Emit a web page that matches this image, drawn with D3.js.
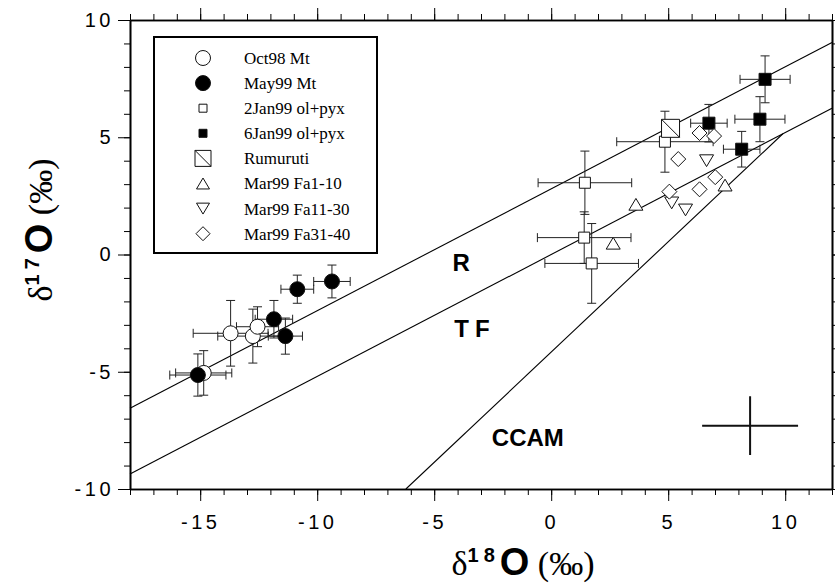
<!DOCTYPE html>
<html>
<head>
<meta charset="utf-8">
<script src="https://cdn.jsdelivr.net/npm/d3@7"></script>
<style>
  body { margin: 0; background: #fff; }
</style>
</head>
<body>
<div id="graph"></div>
<script>
"use strict";

// [d18O, d17O, err18, err17]
var oct98Mt = [[-13.7, -3.36, 1.6, 1.4], [-12.75, -3.48, 1.5, 1.15], [-12.55, -3.08, 0.9, 0.85], [-14.85, -5.05, 1.2, 0.95]];
var may99Mt = [[-15.1, -5.14, 1.2, 0.9], [-10.85, -1.48, 0.7, 0.6], [-9.37, -1.15, 0.78, 0.7], [-11.85, -2.76, 0.8, 0.8], [-11.36, -3.48, 0.73, 0.77]];
var jan2OlPyx = [[1.44, 3.06, 2.0, 1.35], [1.41, 0.72, 2.0, 1.1], [1.73, -0.38, 2.0, 1.7], [4.86, 4.81, 2.06, 1.3]];
var jan6OlPyx = [[6.74, 5.6, 0.78, 0.8], [9.14, 7.47, 1.07, 1.0], [8.92, 5.77, 1.07, 0.96], [8.14, 4.49, 0.78, 0.76]];
var rumuruti = [[5.1, 5.38]];
var fa1to10 = [[2.65, 0.48], [3.62, 2.14], [7.43, 2.96]];
var fa11to30 = [[6.64, 4.0], [5.15, 2.2], [5.74, 1.9]];
var fa31to40 = [[6.34, 5.18], [6.96, 5.05], [5.43, 4.07], [5.05, 2.68], [6.34, 2.78], [7.01, 3.3]];

// reference lines, end points
var rLine = [[-18, -6.56], [12, 9.04]];
var tfLine = [[-18, -9.36], [12, 6.24]];
var ccamLine = [[-6.21, -10], [9.9, 5.15]];
// typical error cross: centre x, y, half widths
var errCross = [8.5, -7.3, 2.05, 1.25];

var lineLabels = ["R", "TF", "CCAM"];
var lineLabelPos = [[-3.85, -0.32], [-3.26, -3.13], [-1.0, -7.78]];

var xTickLabels = [-15, -10, -5, 0, 5, 10];
var yTickLabels = [-10, -5, 0, 5, 10];

var w = 835, h = 583;

var svg = d3.select("#graph")
            .append("svg")
            .attr("width", w)
            .attr("height", h)
            .style("font-family", "'Liberation Sans', Arial, sans-serif");

var x = d3.scaleLinear().domain([-18, 12]).range([130, 832]);
var y = d3.scaleLinear().domain([-10, 10]).range([489, 20]);

// symbol shapes, size = width in px
var shapes = {
  circle: { draw: function (c, s) { var r = s / 2; c.moveTo(r, 0); c.arc(0, 0, r, 0, 2 * Math.PI); } },
  square: { draw: function (c, s) { var r = s / 2; c.rect(-r, -r, s, s); } },
  rumuruti: { draw: function (c, s) { var r = s / 2; c.rect(-r, -r, s, s); c.moveTo(-r, -r); c.lineTo(r, r); } },
  triUp: { draw: function (c, s) { var r = s / 2, k = s * 0.42; c.moveTo(0, -k); c.lineTo(r, k); c.lineTo(-r, k); c.closePath(); } },
  triDown: { draw: function (c, s) { var r = s / 2, k = s * 0.42; c.moveTo(0, k); c.lineTo(r, -k); c.lineTo(-r, -k); c.closePath(); } },
  diamond: { draw: function (c, s) { var r = s / 2; c.moveTo(0, -r); c.lineTo(r, 0); c.lineTo(0, r); c.lineTo(-r, 0); c.closePath(); } }
};

var series = [
  { name: "Oct98 Mt", data: oct98Mt, shape: "circle", size: 15, lsize: 15, fill: "#fff" },
  { name: "May99 Mt", data: may99Mt, shape: "circle", size: 15, lsize: 15, fill: "#000" },
  { name: "2Jan99 ol+pyx", data: jan2OlPyx, shape: "square", size: 11, lsize: 8, fill: "#fff" },
  { name: "6Jan99 ol+pyx", data: jan6OlPyx, shape: "square", size: 12, lsize: 8, fill: "#000" },
  { name: "Rumuruti", data: rumuruti, shape: "rumuruti", size: 18, lsize: 16, fill: "#fff" },
  { name: "Mar99 Fa1-10", data: fa1to10, shape: "triUp", size: 14, lsize: 13, fill: "#fff" },
  { name: "Mar99 Fa11-30", data: fa11to30, shape: "triDown", size: 14, lsize: 13, fill: "#fff" },
  { name: "Mar99 Fa31-40", data: fa31to40, shape: "diamond", size: 15, lsize: 14, fill: "#fff" }
];

// axes: minor ticks every 1, major every 5
function addAxis(axisFn, scale, labels, translate, showText) {
  var minor = d3.range(scale.domain()[0], scale.domain()[1] + 1);
  svg.append("g")
    .attr("transform", translate)
    .call(axisFn(scale).tickValues(minor).tickSize(6).tickSizeOuter(0).tickFormat(""));
  var g = svg.append("g")
    .attr("transform", translate)
    .call(axisFn(scale).tickValues(labels).tickSize(12).tickSizeOuter(0)
      .tickPadding(axisFn === d3.axisLeft ? 4 : 14)
      .tickFormat(function (d) { return showText ? String(d) : ""; }));
  g.selectAll("text")
    .attr("font-family", "'Liberation Sans', Arial, sans-serif")
    .attr("font-size", 20)
    .attr("letter-spacing", 3.5)
    .attr("fill", "#000");
}
addAxis(d3.axisBottom, x, xTickLabels, "translate(0,489)", true);
addAxis(d3.axisLeft, y, yTickLabels, "translate(130,0)", true);
addAxis(d3.axisTop, x, xTickLabels, "translate(0,20)", false);
addAxis(d3.axisRight, y, yTickLabels, "translate(832,0)", false);
svg.selectAll(".domain").attr("stroke-width", 1.6);

// reference lines
var line = d3.line().x(function (d) { return x(d[0]); }).y(function (d) { return y(d[1]); });
svg.selectAll("path.ref")
  .data([rLine, tfLine, ccamLine])
  .enter()
  .append("path")
    .attr("class", "ref")
    .attr("d", line)
    .attr("fill", "none")
    .attr("stroke", "#000")
    .attr("stroke-width", 1.1);

svg.selectAll("text.lbl")
  .data(lineLabels)
  .enter()
  .append("text")
  .attr("class", "lbl")
  .text(function (d) { return d; })
  .attr("x", function (d, i) { return x(lineLabelPos[i][0]); })
  .attr("y", function (d, i) { return y(lineLabelPos[i][1]); })
  .attr("dy", "0.36em")
  .attr("text-anchor", "middle")
  .attr("font-weight", "bold")
  .attr("font-size", 24)
  .attr("letter-spacing", function (d) { return d === "TF" ? 6 : 0; });

// error bars
var cap = 4.5;
var eb = svg.append("g").attr("stroke", "#222").attr("stroke-width", 1).attr("fill", "none");
series.forEach(function (s) {
  s.data.filter(function (d) { return d.length > 2; }).forEach(function (d) {
    var cx = x(d[0]), cy = y(d[1]);
    var x0 = x(d[0] - d[2]), x1 = x(d[0] + d[2]);
    var y0 = y(d[1] - d[3]), y1 = y(d[1] + d[3]);
    eb.append("path").attr("d",
      "M" + x0 + "," + cy + "H" + x1 +
      "M" + x0 + "," + (cy - cap) + "V" + (cy + cap) +
      "M" + x1 + "," + (cy - cap) + "V" + (cy + cap) +
      "M" + cx + "," + y0 + "V" + y1 +
      "M" + (cx - cap) + "," + y0 + "H" + (cx + cap) +
      "M" + (cx - cap) + "," + y1 + "H" + (cx + cap));
  });
});

// typical error cross
svg.append("path")
  .attr("d", "M" + x(errCross[0] - errCross[2]) + "," + y(errCross[1]) + "H" + x(errCross[0] + errCross[2]) +
             "M" + x(errCross[0]) + "," + y(errCross[1] + errCross[3]) + "V" + y(errCross[1] - errCross[3]))
  .attr("stroke", "#111")
  .attr("stroke-width", 2);

// symbols
series.forEach(function (s) {
  svg.append("g").selectAll("path")
    .data(s.data)
    .enter()
    .append("path")
      .attr("transform", function (d) { return "translate(" + x(d[0]) + "," + y(d[1]) + ")"; })
      .attr("d", d3.symbol().type(shapes[s.shape]).size(s.size))
      .attr("fill", s.fill)
      .attr("stroke", "#111")
      .attr("stroke-width", 1);
});

// legend
var legend = svg.append("g");
legend.append("rect")
  .attr("x", 154).attr("y", 37).attr("width", 223).attr("height", 216)
  .attr("fill", "#fff").attr("stroke", "#000").attr("stroke-width", 2);
var item = legend.selectAll("g.item")
  .data(series)
  .enter()
  .append("g")
  .attr("transform", function (d, i) { return "translate(203," + (58 + i * 25.1) + ")"; });
item.append("path")
  .attr("d", function (d) { return d3.symbol().type(shapes[d.shape]).size(d.lsize)(); })
  .attr("fill", function (d) { return d.fill; })
  .attr("stroke", "#111")
  .attr("stroke-width", 1);
item.append("text")
  .text(function (d) { return d.name; })
  .attr("x", 41)
  .attr("dy", "0.35em")
  .attr("font-family", "'Liberation Serif', 'Times New Roman', serif")
  .attr("font-size", 17);

// axis titles
function title(g, sup) {
  var t = g.append("text").attr("text-anchor", "middle");
  t.append("tspan").text("δ").attr("font-family", "'Liberation Serif', serif").attr("font-size", 34);
  t.append("tspan").text(sup).attr("dy", -13).attr("font-weight", "bold").attr("font-size", 20).attr("letter-spacing", 5);
  t.append("tspan").text("O").attr("dy", 13).attr("font-weight", "bold").attr("font-size", 38);
  t.append("tspan").text(" (‰)").attr("font-family", "'Liberation Serif', serif").attr("font-size", 34);
}
title(svg.append("g").attr("transform", "translate(523,575)"), "18");
title(svg.append("g").attr("transform", "translate(52,230) rotate(-90)"), "17");
</script>
</body>
</html>
